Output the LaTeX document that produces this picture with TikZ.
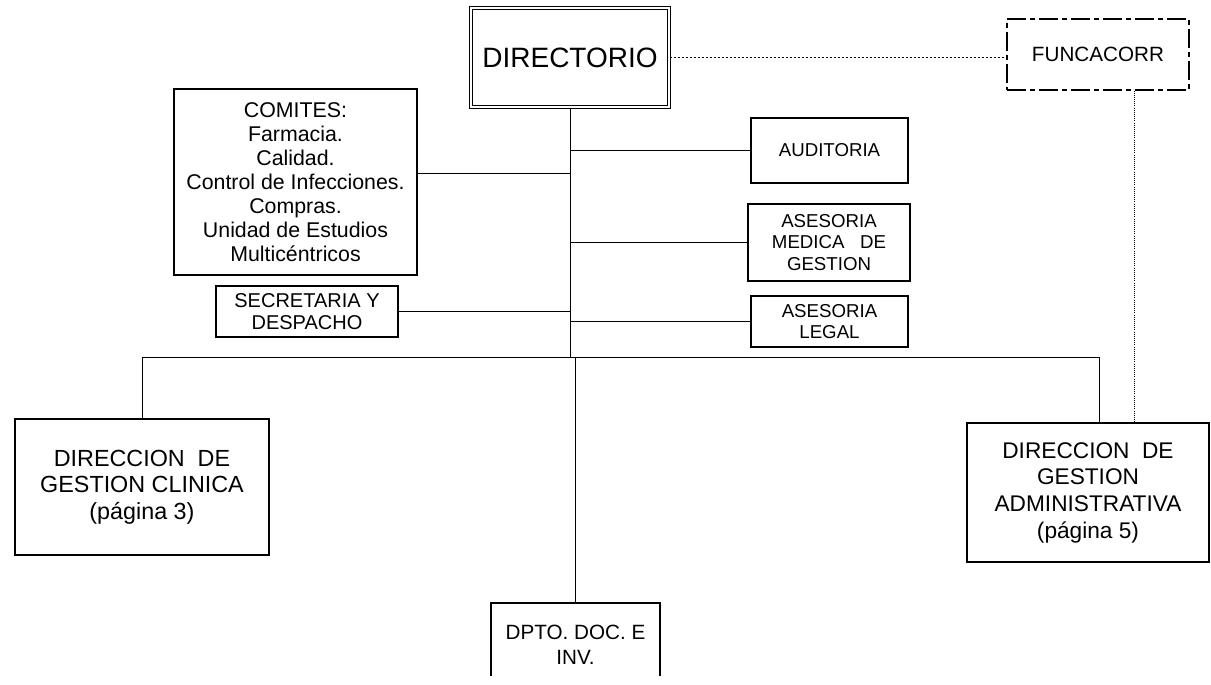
\documentclass[tikz,border=0pt]{standalone}
\usepackage{fontspec}
\setmainfont{Liberation Sans}
\begin{document}
\begin{tikzpicture}[x=0.75pt,y=0.75pt,yscale=-1,xscale=1,
    box/.style={draw, line width=0.8pt, inner sep=0.75pt, align=center},
    link/.style={line width=0.6pt}]

            \useasboundingbox (0,0) rectangle (1211,685);
            \clip (0,0) rectangle (1211,675);

            % Top: Directorio and Funcacorr
            \node [box, double, double distance=2pt, minimum width=148.5pt, minimum height=74.25pt, font=\fontsize{21}{24}\selectfont] (directorio) at (570,57.5) {DIRECTORIO};
            \node [box, dash pattern=on 14pt off 3pt on 4pt off 3pt, minimum width=136.5pt, minimum height=53.25pt, font=\fontsize{15.5}{18}\selectfont] (funcacorr) at (1098,54.5) {FUNCACORR};

            % Left: Comites, Secretaria
            \node [box, minimum width=182.25pt, minimum height=139.5pt, font=\fontsize{16}{18}\selectfont] (comites) at (295.5,182) {COMITES:\\Farmacia.\\Calidad.\\Control de Infecciones.\\Compras.\\Unidad de Estudios\\Multicéntricos};
            \node [box, minimum width=136.5pt, minimum height=38.25pt, font=\fontsize{15}{17}\selectfont] (secretaria) at (307,311.5) {SECRETARIA Y\\DESPACHO};

            % Right: Auditoria, Asesorias
            \node [box, minimum width=117.75pt, minimum height=48.75pt, font=\fontsize{14}{16}\selectfont] (auditoria) at (829.5,150.5) {AUDITORIA};
            \node [box, minimum width=121.5pt, minimum height=57.75pt, font=\fontsize{14}{16}\selectfont] (medica) at (829,242.5) {ASESORIA\\MEDICA~~ DE\\GESTION};
            \node [box, minimum width=117.75pt, minimum height=38.25pt, font=\fontsize{14}{16}\selectfont] (legal) at (829.5,321.5) {ASESORIA\\LEGAL};

            % Bottom: Direcciones and Dpto
            \node [box, minimum width=190.5pt, minimum height=102pt, font=\fontsize{17.5}{20}\selectfont] (clinica) at (142,487) {DIRECCION~ DE\\GESTION CLINICA\\(página 3)};
            \node [box, minimum width=181.5pt, minimum height=104.25pt, font=\fontsize{17}{20}\selectfont] (admin) at (1088,492.5) {DIRECCION~ DE\\GESTION\\ADMINISTRATIVA\\(página 5)};
            \node [box, minimum width=126.75pt, minimum height=63pt, font=\fontsize{15.5}{19}\selectfont] (dpto) at (575.5,645) {DPTO. DOC. E\\INV.};

            % Helper coordinates
            \coordinate (busL) at (142,357);
            \coordinate (busR) at (1099,357);
            \coordinate (comY) at (0,173);
            \coordinate (funX) at (1134,0);

            % Trunk and bus
            \draw [link]    (directorio.south) -- (directorio.south |- busL);
            \draw [link]    (busL) -- (busR);
            \draw [link]    (clinica.north) -- (clinica.north |- busL);
            \draw [link]    (dpto.north) -- (dpto.north |- busL);
            \draw [link]    (admin.north -| busR) -- (busR);

            % Staff branches
            \draw [link]    (comites.east |- comY) -- (directorio.south |- comY);
            \draw [link]    (secretaria.east) -- (secretaria.east -| directorio.south);
            \draw [link]    (auditoria.west) -- (auditoria.west -| directorio.south);
            \draw [link]    (medica.west) -- (medica.west -| directorio.south);
            \draw [link]    (legal.west) -- (legal.west -| directorio.south);

            % Funcacorr links
            \draw [link, dash pattern=on 2pt off 1pt]    (directorio.east) -- (directorio.east -| funcacorr.west);
            \draw [link, densely dotted]    (funcacorr.south -| funX) -- (admin.north -| funX);

            \end{tikzpicture}
\end{document}
